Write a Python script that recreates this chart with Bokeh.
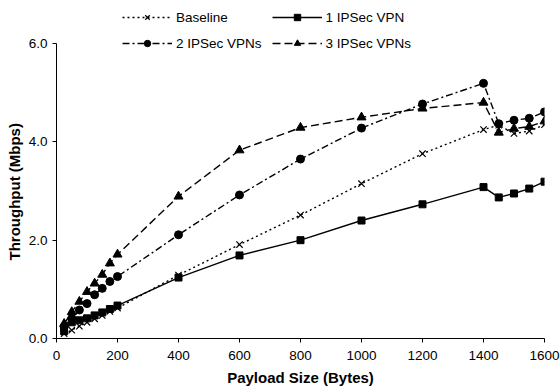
from bokeh.plotting import figure
from bokeh.models import (ColumnDataSource, FixedTicker, NumeralTickFormatter,
                          Legend, LegendItem, Range1d, Title)
from bokeh.embed import file_html
from bokeh.resources import INLINE

# Throughput measured per payload size, for each VPN configuration
payload = [25, 50, 75, 100, 125, 150, 175, 200, 400, 600, 800, 1000, 1200,
           1400, 1450, 1500, 1550, 1600]
baseline = [0.10, 0.17, 0.25, 0.33, 0.40, 0.47, 0.55, 0.62, 1.29, 1.91, 2.51,
            3.15, 3.76, 4.25, 4.34, 4.17, 4.22, 4.35]
one_vpn = [0.15, 0.33, 0.37, 0.41, 0.47, 0.53, 0.60, 0.67, 1.24, 1.69, 2.00,
           2.40, 2.73, 3.08, 2.87, 2.95, 3.05, 3.19]
two_vpn = [0.24, 0.41, 0.58, 0.71, 0.89, 1.02, 1.16, 1.26, 2.11, 2.92, 3.65,
           4.28, 4.77, 5.19, 4.37, 4.44, 4.48, 4.61]
three_vpn = [0.30, 0.54, 0.75, 0.95, 1.12, 1.30, 1.53, 1.71, 2.89, 3.83, 4.29,
             4.50, 4.68, 4.80, 4.19, 4.27, 4.31, 4.42]

series_names = ["Baseline", "1 IPSec VPN", "2 IPSec VPNs", "3 IPSec VPNs"]
x_ticks = [0, 200, 400, 600, 800, 1000, 1200, 1400, 1600]
y_ticks = [0, 2, 4, 6]

FONT = "Liberation Sans"

# The frame reaches above 6.0 to leave room for the legend; the y axis line
# itself is bounded to the 0-6 interval.
TOP_PAD = 5
Y_MAX = 6.0 * (337.5 - TOP_PAD) / (337.5 - 43)

p = figure(width=560, height=390, output_backend="svg", toolbar_location=None,
           x_range=Range1d(0, 1600), y_range=Range1d(0, Y_MAX),
           min_border_left=56, min_border_right=16, min_border_top=TOP_PAD,
           min_border_bottom=52, outline_line_color=None)
p.grid.visible = False

src = ColumnDataSource(dict(x=payload, b=baseline, v1=one_vpn, v2=two_vpn, v3=three_vpn))

lw = 1.4
r_b_line = p.line("x", "b", source=src, line_color="black", line_width=lw, line_dash="2 3")
r_b_mk = p.scatter("x", "b", source=src, marker="x", size=9, line_color="black", line_width=1.2)

r_1_line = p.line("x", "v1", source=src, line_color="black", line_width=lw)
r_1_mk = p.scatter("x", "v1", source=src, marker="square", size=7, fill_color="black", line_color="black")

r_2_line = p.line("x", "v2", source=src, line_color="black", line_width=lw, line_dash="7 3 2 3")
r_2_mk = p.scatter("x", "v2", source=src, marker="circle", size=8, fill_color="black", line_color="black")

r_3_line = p.line("x", "v3", source=src, line_color="black", line_width=lw, line_dash="8 4")
r_3_mk = p.scatter("x", "v3", source=src, marker="triangle", size=9, fill_color="black", line_color="black")

# Axes
p.xaxis.ticker = FixedTicker(ticks=x_ticks)
p.yaxis.ticker = FixedTicker(ticks=y_ticks)
p.yaxis.formatter = NumeralTickFormatter(format="0.0")
p.yaxis.bounds = (0, 6)
for ax in (p.xaxis[0], p.yaxis[0]):
    ax.axis_line_color = "black"
    ax.major_tick_line_color = "black"
    ax.major_tick_in = 0
    ax.major_tick_out = 4
    ax.minor_tick_line_color = None
    ax.major_label_text_font = FONT
    ax.major_label_text_font_size = "13.5px"
    ax.major_label_text_color = "black"
p.xaxis.axis_label = "Payload Size (Bytes)"
p.xaxis.axis_label_text_font = FONT
p.xaxis.axis_label_text_font_size = "15px"
p.xaxis.axis_label_text_font_style = "bold"
p.xaxis.axis_label_text_color = "black"
p.xaxis.major_label_standoff = 8
p.yaxis.major_label_standoff = 5
p.xaxis.axis_label_standoff = 6

# Vertical title of the y axis, centred on the 0-6 span of the axis
p.add_layout(Title(text="Throughput (Mbps)", align="left", offset=78,
                   standoff=6, text_font=FONT, text_font_size="15px",
                   text_font_style="bold", text_color="black"), "left")

legend = Legend(items=[
    LegendItem(label=series_names[0], renderers=[r_b_line, r_b_mk]),
    LegendItem(label=series_names[1], renderers=[r_1_line, r_1_mk]),
    LegendItem(label=series_names[2], renderers=[r_2_line, r_2_mk]),
    LegendItem(label=series_names[3], renderers=[r_3_line, r_3_mk]),
], orientation="horizontal", ncols=2, location=(66, 287),
    glyph_width=50, glyph_height=16, label_height=16, label_standoff=4,
    spacing=10, padding=0, margin=0, border_line_color=None,
    background_fill_alpha=0, label_text_font=FONT,
    label_text_font_size="13.5px", label_text_color="black")
p.add_layout(legend)

open("out.html", "w").write(file_html(p, INLINE))
